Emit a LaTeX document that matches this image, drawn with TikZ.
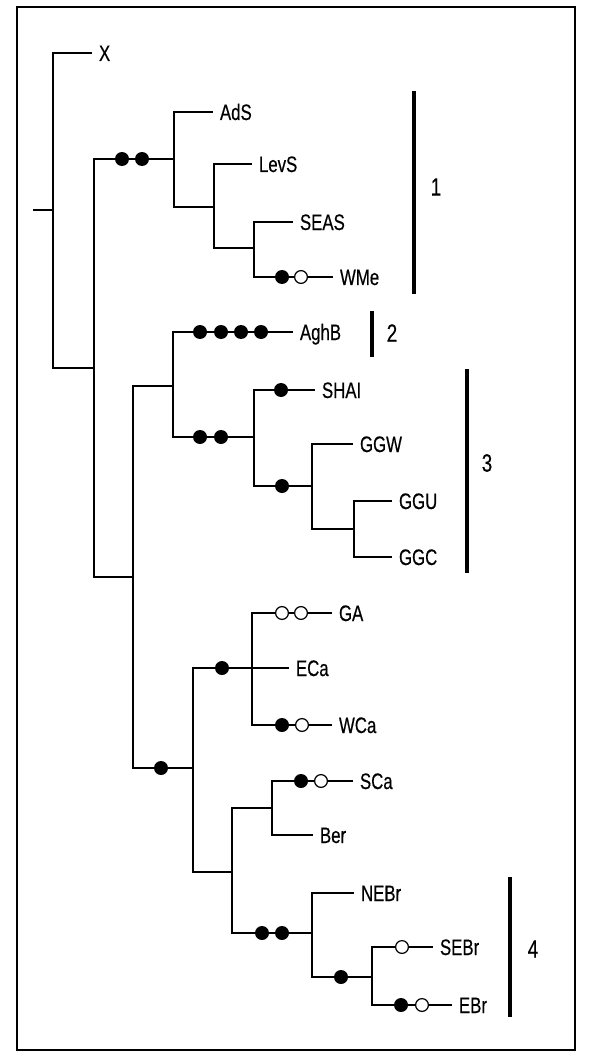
\documentclass[tikz,border=0pt]{standalone}
\usepackage{fontspec}
\setmainfont{Liberation Sans}[FakeStretch=0.75,FakeBold=0.4]
\usetikzlibrary{backgrounds}
\newcommand{\branchwidth}{1pt}
\newcommand{\barwidth}{2.2pt}
\newcommand{\dotsize}{7pt}
\tikzset{
  leaf/.style={anchor=west, inner xsep=3.3pt, inner ysep=0pt, text height=8pt, text depth=0pt, font=\fontsize{11.2}{13}\selectfont},
  grp/.style={inner sep=0pt, font=\fontsize{12.5}{15}\selectfont},
  full/.style={circle, fill, inner sep=0pt, minimum size=\dotsize},
  open/.style={circle, draw, fill=white, line width=0.6pt, inner sep=0pt, minimum size=\dotsize-0.6pt},
  branch/.style={line width=\branchwidth},
  clade/.style={line width=\barwidth}
}

\begin{document}
\begin{tikzpicture}[x=0.5pt,y=-0.5pt]
\useasboundingbox (0,0) rectangle (591,1059);
\draw[line width=1.2pt] (17,7) rectangle (575,1050);
%inner nodes
\coordinate (stub) at (33,210);
\coordinate (root) at (53,210);
\coordinate (n1) at (94,368);
\coordinate (n2) at (174,159);
\coordinate (n3) at (214,207);
\coordinate (n4) at (254,248);
\coordinate (n5) at (133,577);
\coordinate (n6) at (173,386);
\coordinate (n7) at (254,437);
\coordinate (n8) at (312,486);
\coordinate (n9) at (354,529);
\coordinate (n10) at (193,768);
\coordinate (n11) at (252,668);
\coordinate (n12) at (232,872);
\coordinate (n13) at (272,808);
\coordinate (n14) at (312,933);
\coordinate (n15) at (372,977);
%leaves
\node[leaf] (X) at (92,53) {X};
\node[leaf] (AdS) at (213,112) {AdS};
\node[leaf] (LevS) at (252,164) {LevS};
\node[leaf] (SEAS) at (293,222) {SEAS};
\node[leaf] (WMe) at (333,277) {WMe};
\node[leaf] (AghB) at (293,332) {AghB};
\node[leaf] (SHAI) at (315,390) {SHAI};
\node[leaf] (GGW) at (353,444) {GGW};
\node[leaf] (GGU) at (392,501) {GGU};
\node[leaf] (GGC) at (392,557) {GGC};
\node[leaf] (GA) at (332,613) {GA};
\node[leaf] (ECa) at (289,668) {ECa};
\node[leaf] (WCa) at (332,725) {WCa};
\node[leaf] (SCa) at (353,781) {SCa};
\node[leaf] (Ber) at (313,835) {Ber};
\node[leaf] (NEBr) at (354,893) {NEBr};
\node[leaf] (SEBr) at (433,947) {SEBr};
\node[leaf] (EBr) at (452,1005) {EBr};
%changes
\node[full] (m1) at (122,159) {};
\node[full] (m2) at (142,159) {};
\node[full] (m3) at (282,277) {};
\node[open] (o1) at (301,277) {};
\node[full] (m4) at (200,332) {};
\node[full] (m5) at (221,332) {};
\node[full] (m6) at (241,332) {};
\node[full] (m7) at (261,332) {};
\node[full] (m8) at (200,437) {};
\node[full] (m9) at (221,437) {};
\node[full] (m10) at (281,390) {};
\node[full] (m11) at (282,486) {};
\node[full] (m12) at (161,768) {};
\node[full] (m13) at (222,668) {};
\node[open] (o2) at (282,613) {};
\node[open] (o3) at (301,613) {};
\node[full] (m14) at (282,725) {};
\node[open] (o4) at (302,725) {};
\node[full] (m15) at (301,781) {};
\node[open] (o5) at (321,781) {};
\node[full] (m16) at (262,933) {};
\node[full] (m17) at (282,933) {};
\node[full] (m18) at (341,977) {};
\node[open] (o6) at (402,947) {};
\node[full] (m19) at (401,1005) {};
\node[open] (o7) at (422,1005) {};
%groups
\coordinate (b1a) at (414,91);
\coordinate (b1b) at (414,294);
\coordinate (b2a) at (372,311);
\coordinate (b2b) at (372,357);
\coordinate (b3a) at (467,369);
\coordinate (b3b) at (467,573);
\coordinate (b4a) at (510,877);
\coordinate (b4b) at (510,1017);
\node[grp] (g1) at (436,187) {1};
\node[grp] (g2) at (392,333) {2};
\node[grp] (g3) at (487,463) {3};
\node[grp] (g4) at (533,949) {4};
\draw[clade] (b1a) -- (b1b);
\draw[clade] (b2a) -- (b2b);
\draw[clade] (b3a) -- (b3b);
\draw[clade] (b4a) -- (b4b);
\begin{scope}[on background layer]
\draw[branch] (stub) -- (root);
\draw[branch] (root) |- (X.west);
\draw[branch] (root) |- (n1);
\draw[branch] (n1) |- (n2);
\draw[branch] (n1) |- (n5);
\draw[branch] (n2) |- (AdS.west);
\draw[branch] (n2) |- (n3);
\draw[branch] (n3) |- (LevS.west);
\draw[branch] (n3) |- (n4);
\draw[branch] (n4) |- (SEAS.west);
\draw[branch] (n4) |- (WMe.west);
\draw[branch] (n5) |- (n6);
\draw[branch] (n5) |- (n10);
\draw[branch] (n6) |- (AghB.west);
\draw[branch] (n6) |- (n7);
\draw[branch] (n7) |- (SHAI.west);
\draw[branch] (n7) |- (n8);
\draw[branch] (n8) |- (GGW.west);
\draw[branch] (n8) |- (n9);
\draw[branch] (n9) |- (GGU.west);
\draw[branch] (n9) |- (GGC.west);
\draw[branch] (n10) |- (n11);
\draw[branch] (n10) |- (n12);
\draw[branch] (n11) |- (GA.west);
\draw[branch] (n11) |- (ECa.west);
\draw[branch] (n11) |- (WCa.west);
\draw[branch] (n12) |- (n13);
\draw[branch] (n12) |- (n14);
\draw[branch] (n13) |- (SCa.west);
\draw[branch] (n13) |- (Ber.west);
\draw[branch] (n14) |- (NEBr.west);
\draw[branch] (n14) |- (n15);
\draw[branch] (n15) |- (SEBr.west);
\draw[branch] (n15) |- (EBr.west);
\end{scope}
\end{tikzpicture}
\end{document}
